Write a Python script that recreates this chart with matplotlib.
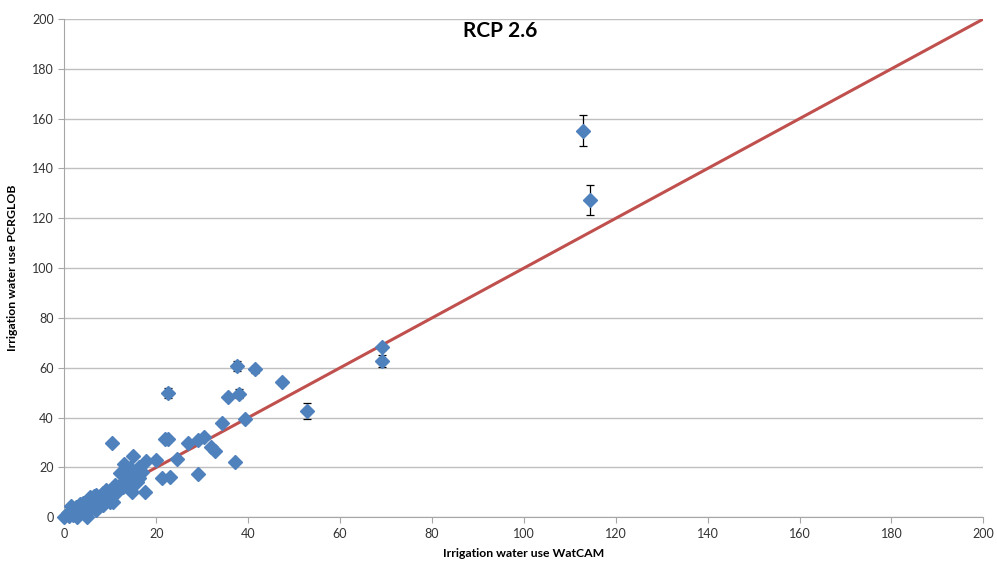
import numpy as np
import matplotlib.pyplot as plt

# irrigation water use, WatCAM (x) vs PCRGLOB (y), with PCRGLOB spread
watcam = [112.9, 114.3, 69.1, 69.1, 52.8, 47.3, 41.6, 37.6, 38.1, 35.6,
          39.3, 34.3, 37.2, 32.0, 32.9, 30.4, 29.2, 29.1, 26.9, 24.5,
          22.6, 21.9, 22.6, 21.2, 22.9, 20.0, 17.8, 17.6, 15.0, 10.4,
          13.0, 12.2, 14.3, 15.8, 16.8, 13.6, 15.4, 16.3, 11.0, 12.8,
          14.7, 15.8, 16.3, 9.6, 8.5, 7.0, 9.9, 7.8, 6.0, 5.6,
          4.1, 3.4, 2.0, 0.9, 0.0, 4.9, 4.9, 2.7, 7.0, 8.5,
          9.9, 11.4, 1.5, 2.5, 3.0, 5.5, 6.5, 1.0, 2.0, 3.5,
          4.5, 6.0, 8.0, 10.0, 11.5, 13.0, 14.0, 12.0, 10.5, 9.0]
pcrglob = [155.1, 127.3, 68.2, 62.7, 42.7, 54.4, 59.4, 60.7, 49.5, 48.3,
           39.3, 37.7, 22.3, 28.1, 26.6, 32.1, 31.0, 17.3, 29.7, 23.4,
           49.8, 31.6, 31.6, 15.9, 16.3, 22.8, 22.6, 10.3, 24.8, 29.9,
           21.5, 17.7, 19.7, 19.0, 18.3, 15.7, 16.3, 15.7, 13.0, 12.3,
           10.3, 14.3, 20.3, 10.3, 9.6, 9.0, 6.3, 7.0, 7.0, 4.9,
           5.6, 3.6, 2.9, 1.6, 0.2, 1.6, 0.0, 0.2, 2.9, 4.9,
           8.3, 11.6, 4.5, 4.0, 1.0, 8.0, 8.5, 0.5, 1.0, 5.5,
           3.0, 5.5, 6.5, 10.0, 10.0, 13.5, 15.0, 12.5, 6.0, 11.0]
spread = [6.2, 5.9, 1.0, 2.3, 3.1, 1.3, 1.5, 2.0, 1.8, 1.0,
          1.0, 1.2, 0.5, 0.5, 0.5, 0.8, 0.5, 0.5, 0.5, 0.5,
          2.0, 0.8, 0.5, 0.5, 1.2, 0.5, 0.5, 0.3, 0.5, 0.5,
          0.3, 0.3, 0.3, 0.3, 0.3, 0.3, 0.3, 0.3, 0.3, 0.3,
          0.3, 0.3, 0.3, 0.3, 0.3, 0.3, 0.3, 0.3, 0.3, 0.3,
          0.3, 0.3, 0.3, 0.3, 0.3, 0.3, 0.3, 0.3, 0.3, 0.3,
          0.3, 0.3, 0.3, 0.3, 0.3, 0.3, 0.3, 0.3, 0.3, 0.3,
          0.3, 0.3, 0.3, 0.3, 0.3, 0.3, 0.3, 0.3, 0.3, 0.3]
one_to_one = [0, 200]

plt.rcParams['font.family'] = ['Lato', 'DejaVu Sans']

fig = plt.figure(figsize=(9.97, 5.64), dpi=100)
ax = fig.add_axes([0.0645, 0.0828, 0.9218, 0.8835])

ax.plot(one_to_one, one_to_one, color='#C0504D', lw=2.2, zorder=2)
eb = ax.errorbar(watcam, pcrglob, yerr=spread, fmt='D', color='#4F81BD', ms=6.8,
                 ecolor='black', elinewidth=0.9, capsize=3, capthick=0.9, zorder=3)
for artist in eb.lines[0:1] + tuple(eb.lines[1]) + tuple(eb.lines[2]):
    artist.set_clip_on(False)

ax.set_xlim(0, 200)
ax.set_ylim(0, 200)
ax.set_xticks(np.arange(0, 201, 20))
ax.set_yticks(np.arange(0, 201, 20))
ax.yaxis.grid(True, color='#BFBFBF', lw=1)
ax.set_axisbelow(True)

for side in ['top', 'right']:
    ax.spines[side].set_visible(False)
for side in ['left', 'bottom']:
    ax.spines[side].set_color('#A6A6A6')
ax.tick_params(axis='both', colors='#A6A6A6', labelcolor='#333333',
               labelsize=9, length=4, direction='out')

ax.set_xlabel('Irrigation water use WatCAM', fontsize=8.8, fontweight='bold',
              labelpad=6)
ax.set_ylabel('Irrigation water use PCRGLOB', fontsize=8.8, fontweight='bold',
              labelpad=10)
fig.text(0.502, 0.945, 'RCP 2.6', fontsize=15, fontweight='bold',
         ha='center', va='center')

fig.savefig('out.png', dpi=100)
